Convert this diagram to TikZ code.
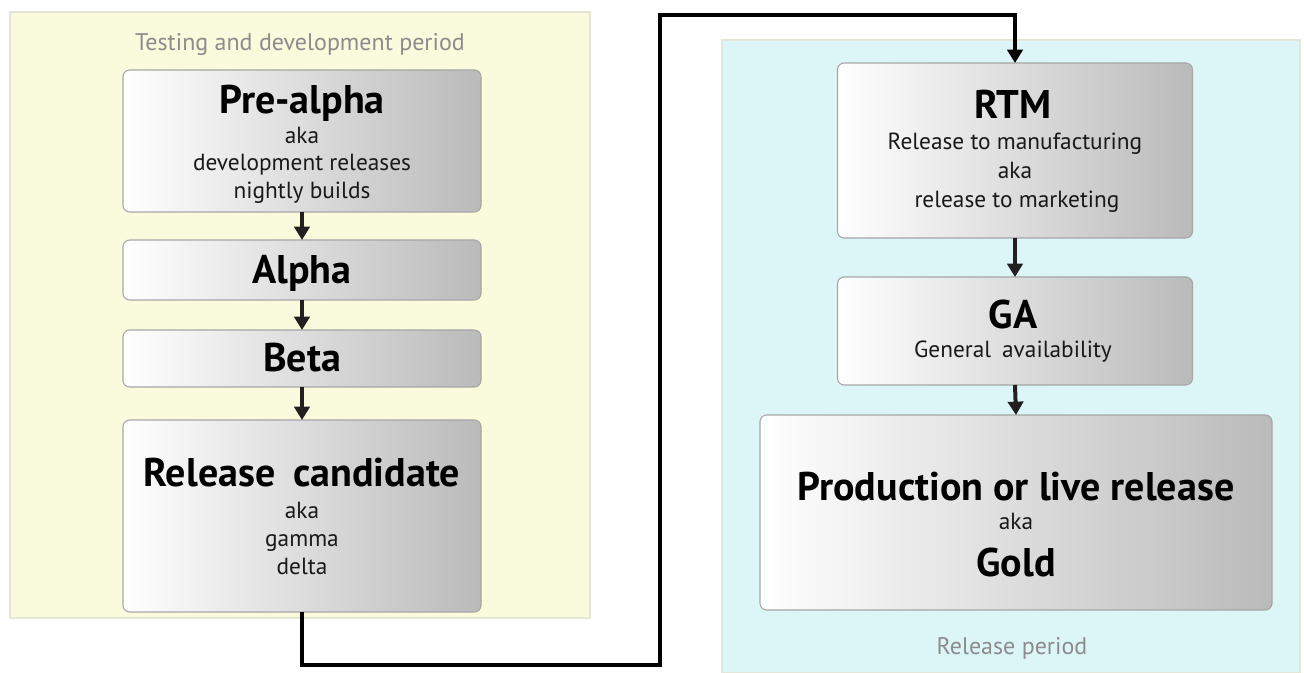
\documentclass[tikz,border=0pt]{standalone}
\usepackage{fontspec}
\setmainfont{PT Sans}
\usetikzlibrary{arrows.meta}

\definecolor{testyellow}{RGB}{250,250,220}
\definecolor{releasecyan}{RGB}{220,245,246}
\definecolor{panelline}{RGB}{228,230,215}
\definecolor{arrowgray}{RGB}{35,31,32}

\tikzset{
  stagebox/.style={draw=black!35, line width=0.8pt, rounded corners=5pt,
    left color=white, right color=black!27, inner sep=0pt, outer sep=0pt},
  headtext/.style={font=\fontsize{30}{33}\selectfont\bfseries, inner sep=0pt,
    text height=26pt, text depth=6pt},
  subtext/.style={font=\fontsize{17.5}{20}\selectfont, text=black!90, inner sep=0pt,
    text height=17pt, text depth=3.5pt},
  periodtext/.style={font=\fontsize{18}{20}\selectfont, text=black!45, inner sep=0pt,
    text height=17pt, text depth=3.5pt},
  flow/.style={draw=arrowgray, line width=3pt, -{Triangle[length=10pt,width=11.5pt]}},
  bigflow/.style={draw=black, line width=3.5pt, -{Triangle[length=10pt,width=11.5pt]}}
}

\begin{document}
\begin{tikzpicture}[x=0.75pt,y=0.75pt]
\useasboundingbox (0,0) rectangle (1304,673);

% the two periods
\draw[fill=testyellow, draw=panelline, line width=0.8pt] (10,55) rectangle (590,661);
\draw[fill=releasecyan, draw=panelline, line width=0.8pt] (722,0) rectangle (1300,633);

\node[periodtext] (testtitle) at (300,631) {Testing and development period};
\node[periodtext] (reltitle) at (1012,27) {Release period};

% testing and development
\node[stagebox, minimum width=268.5pt, minimum height=106.5pt] (prealpha) at (302,532) {};
\node[headtext] (prealphahead) at (302,573) {Pre-alpha};
\node[subtext] (prealphaaka) at (302,538) {aka};
\node[subtext] (prealphadev) at (302,511) {development releases};
\node[subtext] (prealphanight) at (302,483) {nightly builds};

\node[stagebox, minimum width=268.5pt, minimum height=45pt] (alpha) at (302,403) {};
\node[headtext] (alphahead) at (302,403) {Alpha};

\node[stagebox, minimum width=268.5pt, minimum height=42.75pt] (beta) at (302,314.5) {};
\node[headtext] (betahead) at (302,314.5) {Beta};

\node[stagebox, minimum width=268.5pt, minimum height=144pt] (rc) at (302,157) {};
\node[headtext] (rchead) at (302,200) {Release\hspace{0.2em} candidate};
\node[subtext] (rcaka) at (302,163) {aka};
\node[subtext] (rcgamma) at (302,135) {gamma};
\node[subtext] (rcdelta) at (302,107) {delta};

% release
\node[stagebox, minimum width=266.25pt, minimum height=131.25pt] (rtm) at (1015,522.5) {};
\node[headtext] (rtmhead) at (1013,568) {RTM};
\node[subtext] (rtmmanu) at (1015,532) {Release to manufacturing};
\node[subtext] (rtmaka) at (1015,503) {aka};
\node[subtext] (rtmmark) at (1017,474) {release to marketing};

\node[stagebox, minimum width=266.25pt, minimum height=81pt] (ga) at (1015,342) {};
\node[headtext] (gahead) at (1013,358) {GA};
\node[subtext] (gasub) at (1013,324) {General\hspace{0.2em} availability};

\node[stagebox, minimum width=384pt, minimum height=146.25pt] (prod) at (1016,160.5) {};
\node[headtext] (prodhead) at (1016,186) {Production or live release};
\node[subtext] (prodaka) at (1016,152) {aka};
\node[headtext] (prodgold) at (1016,110) {Gold};

% connectors
\draw[flow] (prealpha.south) -- (alpha.north);
\draw[flow] (alpha.south) -- (beta.north);
\draw[flow] (beta.south) -- (rc.north);
\draw[flow] (rtm.south) -- (ga.north);
\draw[flow] (ga.south) -- (prod.north);

\coordinate (lowbend) at (660,8);
\coordinate (highbend) at (660,658);
\draw[bigflow] (rc.south) |- (lowbend) -- (highbend) -| (rtm.north);

\end{tikzpicture}
\end{document}
